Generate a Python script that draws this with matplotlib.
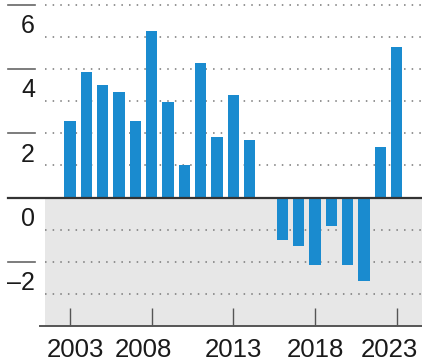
import matplotlib
matplotlib.use("Agg")
import matplotlib.pyplot as plt
from matplotlib.transforms import blended_transform_factory, ScaledTranslation

years = [2003, 2004, 2005, 2006, 2007, 2008, 2009, 2010, 2011, 2012, 2013,
         2014, 2016, 2017, 2018, 2019, 2020, 2021, 2022, 2023]
values = [2.38, 3.91, 3.50, 3.30, 2.38, 5.20, 2.98, 1.00, 4.19, 1.89, 3.19,
          1.79, -1.32, -1.50, -2.10, -0.90, -2.10, -2.61, 1.59, 4.68]
xticks = [2003, 2008, 2013, 2018, 2023]
xtick_labels = ["2003", "2008", "2013", "2018", "2023"]
yticks = [6, 4, 2, 0, -2]
ytick_labels = ["6", "4", "2", "0", "\u20132"]

W, H = 422, 363
fig = plt.figure(figsize=(W / 100, H / 100), dpi=100)
ax_left, ax_right, ax_top, ax_bottom = 45, 422, 0, 326
ax = fig.add_axes([ax_left / W, 1 - ax_bottom / H, (ax_right - ax_left) / W, (ax_bottom - ax_top) / H])

ymin, ymax = -4, 6 + 5 / 32.1
ax.set_ylim(ymin, ymax)
ax.set_xlim(2001.47, 2024.55)

for s in ax.spines.values():
    s.set_visible(False)

ax.axhspan(ymin, 0, color="#e7e7e7", zorder=0, lw=0)

# dotted gridlines
for v in range(-3, 7):
    if v == 0:
        continue
    ax.axhline(v, color="#777777", lw=1.1, ls=(0, (1, 4)), zorder=1)

ax.bar(years, values, width=0.7, color="#1a8bcf", zorder=3)

ax.set_yticks([])
ax.set_xticks(xticks)
ax.set_xticklabels([])
ax.tick_params(axis="x", direction="in", length=13, width=1.0, color="#555555", pad=0)

trans_fig_data = blended_transform_factory(fig.transFigure, ax.transData)
# zero line
ax.plot([8 / W, 1], [0, 0], transform=trans_fig_data, color="#333333", lw=1.6, clip_on=False, zorder=5)
# bottom axis line
ax.plot([40 / W, 1], [ymin, ymin], transform=trans_fig_data, color="#555555", lw=1.4, clip_on=False, zorder=5)
# left tick marks and labels
for v, lab in zip(yticks, ytick_labels):
    if v != 0:
        ax.plot([8 / W, 35 / W], [v, v], transform=trans_fig_data, color="#666666", lw=1.2, clip_on=False, zorder=5)
    ax.text(35 / W, v - 0.66, lab, transform=trans_fig_data, ha="right", va="center",
            fontsize=18, family="Liberation Sans", color="#1a1a1a")

# x labels
offsets = {"2003": 5, "2008": -8, "2013": 0, "2018": 0, "2023": -7}
trans_data_fig = blended_transform_factory(ax.transData, fig.transFigure)
for x, lab in zip(xticks, xtick_labels):
    t = trans_data_fig + ScaledTranslation(offsets[lab] / 100, 0, fig.dpi_scale_trans)
    ax.text(x, 1 - 350 / H, lab, transform=t, ha="center", va="center",
            fontsize=18.5, family="Liberation Sans", color="#1a1a1a", clip_on=False)

fig.savefig("out.png", dpi=100)
